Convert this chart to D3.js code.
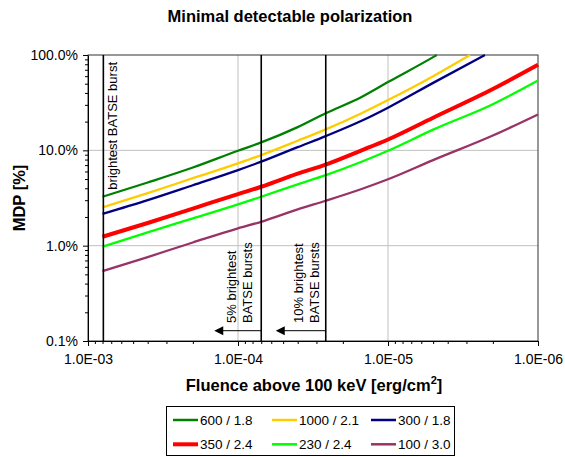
<!DOCTYPE html>
<html lang="en">
<head>
    <meta charset="UTF-8">
    <title>Minimal detectable polarization</title>
    <script src="https://d3js.org/d3.v7.min.js"></script>
    <style>
        body {
            margin: 0;
            padding: 0;
            background: #fff;
            font-family: Arial, "Liberation Sans", sans-serif;
        }
        svg text {
            font-family: Arial, "Liberation Sans", sans-serif;
        }
    </style>
</head>
<body>
    <svg width="565" height="457"></svg>

    <script>
        // fluence [erg/cm2] sample points
        const fluence = [8e-4, 4e-4, 2e-4, 1e-4, 7e-5, 4e-5, 2.6e-5, 1.5e-5, 1e-5, 5e-6, 2e-6, 1e-6];

        // MDP [%] per series (null = above the plot)
        const mdp600 = [3.26, 4.6, 6.6, 9.9, 12.1, 17.5, 24.5, 36.3, 52, 95, null, null];
        const mdp1000 = [2.52, 3.55, 5.1, 7.3, 8.9, 12.6, 16.6, 24.5, 33.7, 60, null, null];
        const mdp300 = [2.15, 3.0, 4.3, 6.2, 7.6, 10.8, 14.1, 20.4, 28, 51, null, null];
        const mdp350 = [1.24, 1.73, 2.45, 3.48, 4.15, 5.7, 7.1, 10, 13, 22, 44, 79];
        const mdp230 = [0.975, 1.38, 1.93, 2.71, 3.26, 4.4, 5.5, 7.6, 9.9, 16.5, 30.5, 54];
        const mdp100 = [0.54, 0.76, 1.08, 1.52, 1.78, 2.4, 2.96, 3.93, 4.97, 7.9, 14.3, 23.8];

        // fluence where a curve leaves the top of the plot (100 %)
        const exitFluence = [4.73e-6, 2.84e-6, 2.26e-6, null, null, null];

        const seriesNames = ["600 / 1.8", "1000 / 2.1", "300 / 1.8", "350 / 2.4", "230 / 2.4", "100 / 3.0"];
        const seriesColors = ["#008000", "#FFCC00", "#000080", "#FF0000", "#00FF00", "#993366"];
        const seriesValues = [mdp600, mdp1000, mdp300, mdp350, mdp230, mdp100];

        // BATSE markers
        const markerFluence = [7.9e-4, 7.0e-5, 2.6e-5];

        const xTickValues = [1e-3, 1e-4, 1e-5, 1e-6];
        const xTickLabels = ["1.0E-03", "1.0E-04", "1.0E-05", "1.0E-06"];
        const yTickValues = [100, 10, 1, 0.1];
        const yTickLabels = ["100.0%", "10.0%", "1.0%", "0.1%"];

        const pLeft = 88, pRight = 538, pTop = 55, pBottom = 341;

        const svg = d3.select("svg");

        const x = d3.scaleLog().domain([1e-3, 1e-6]).range([pLeft, pRight]);
        const y = d3.scaleLog().domain([0.1, 100]).range([pBottom, pTop]);

        // minor ticks for both log axes
        const xMinor = [];
        for (let e = -6; e <= -4; e++) {
            for (let m = 1; m <= 9; m++) xMinor.push(m * Math.pow(10, e));
        }
        xMinor.push(1e-3);
        const yMinor = [];
        for (let e = -1; e <= 1; e++) {
            for (let m = 1; m <= 9; m++) yMinor.push(m * Math.pow(10, e));
        }
        yMinor.push(100);

        const isMajor = (list, d) => list.some(t => Math.abs(t - d) / t < 1e-6);

        // gridlines
        const grid = svg.append("g");
        grid.selectAll("line.gx")
            .data(xTickValues.slice(1, 3))
            .enter().append("line")
            .attr("x1", d => x(d)).attr("x2", d => x(d))
            .attr("y1", pTop).attr("y2", pBottom)
            .attr("stroke", "#c0c0c0").attr("stroke-width", 1);
        grid.selectAll("line.gy")
            .data(yTickValues.slice(1, 3))
            .enter().append("line")
            .attr("x1", pLeft).attr("x2", pRight)
            .attr("y1", d => y(d)).attr("y2", d => y(d))
            .attr("stroke", "#c0c0c0").attr("stroke-width", 1);

        // frame
        svg.append("rect")
            .attr("x", pLeft).attr("y", pTop)
            .attr("width", pRight - pLeft).attr("height", pBottom - pTop)
            .attr("fill", "none").attr("stroke", "#333").attr("stroke-width", 1);

        // x axis
        const xAxis = d3.axisBottom(x)
            .tickValues(xMinor)
            .tickSizeOuter(0)
            .tickSizeInner(3)
            .tickFormat(d => {
                const i = xTickValues.findIndex(t => Math.abs(t - d) / t < 1e-6);
                return i >= 0 ? xTickLabels[i] : "";
            });
        const gx = svg.append("g")
            .attr("transform", `translate(0,${pBottom})`)
            .call(xAxis);
        gx.select(".domain").attr("stroke", "#000");
        gx.selectAll(".tick line").attr("stroke", "#000")
            .attr("y2", d => isMajor(xTickValues, d) ? 5 : 3);
        gx.selectAll(".tick text")
            .attr("y", 13)
            .attr("font-size", "14px").attr("fill", "#000");

        // y axis
        const yAxis = d3.axisLeft(y)
            .tickValues(yMinor)
            .tickSizeOuter(0)
            .tickSizeInner(3)
            .tickFormat(d => {
                const i = yTickValues.findIndex(t => Math.abs(t - d) / t < 1e-6);
                return i >= 0 ? yTickLabels[i] : "";
            });
        const gy = svg.append("g")
            .attr("transform", `translate(${pLeft},0)`)
            .call(yAxis);
        gy.select(".domain").attr("stroke", "#000");
        gy.selectAll(".tick line").attr("stroke", "#000")
            .attr("x2", d => isMajor(yTickValues, d) ? -5 : -3);
        gy.selectAll(".tick text")
            .attr("x", -10)
            .attr("font-size", "14px").attr("fill", "#000");

        // curves
        const line = d3.line()
            .x(d => x(d[0]))
            .y(d => y(d[1]))
            .curve(d3.curveMonotoneX);

        seriesValues.forEach((vals, i) => {
            const pts = fluence.map((f, j) => [f, vals[j]]).filter(p => p[1] != null);
            if (exitFluence[i] != null) pts.push([exitFluence[i], 100]);
            svg.append("path")
                .datum(pts)
                .attr("d", line)
                .attr("fill", "none")
                .attr("stroke", seriesColors[i])
                .attr("stroke-width", i === 3 ? 4 : 2.3)
                .attr("stroke-linejoin", "round");
        });

        // BATSE marker lines
        svg.selectAll("line.marker")
            .data(markerFluence)
            .enter().append("line")
            .attr("x1", d => x(d)).attr("x2", d => x(d))
            .attr("y1", pTop).attr("y2", pBottom)
            .attr("stroke", "#000").attr("stroke-width", 1.6);

        // marker annotations
        function vtext(px, py, str, anchor) {
            svg.append("text")
                .attr("transform", `translate(${px},${py}) rotate(-90)`)
                .attr("text-anchor", anchor)
                .attr("dominant-baseline", "central")
                .attr("font-size", "13px")
                .text(str);
        }
        vtext(x(markerFluence[0]) + 9, 62, "brightest BATSE burst", "end");
        vtext(x(markerFluence[1]) - 30, 323, "5% brightest", "start");
        vtext(x(markerFluence[1]) - 14, 323, "BATSE bursts", "start");
        vtext(x(markerFluence[2]) - 27, 323, "10% brightest", "start");
        vtext(x(markerFluence[2]) - 11, 323, "BATSE bursts", "start");

        // arrows pointing to brighter fluence
        [[markerFluence[1], 47], [markerFluence[2], 50]].forEach(([f, len]) => {
            const x0 = x(f), ay = 330.7;
            svg.append("line")
                .attr("x1", x0).attr("x2", x0 - len + 8)
                .attr("y1", ay).attr("y2", ay)
                .attr("stroke", "#000").attr("stroke-width", 1);
            svg.append("path")
                .attr("d", `M${x0 - len},${ay} L${x0 - len + 9},${ay - 4.5} L${x0 - len + 9},${ay + 4.5} Z`)
                .attr("fill", "#000");
        });

        // titles
        svg.append("text")
            .attr("x", 290).attr("y", 22)
            .attr("text-anchor", "middle")
            .attr("font-size", "16.5px").attr("font-weight", "bold")
            .text("Minimal detectable polarization");

        const xt = svg.append("text")
            .attr("x", 314).attr("y", 391)
            .attr("text-anchor", "middle")
            .attr("font-size", "16.5px").attr("font-weight", "bold");
        xt.append("tspan").text("Fluence above 100 keV [erg/cm");
        xt.append("tspan").attr("dy", -7).attr("font-size", "11px").text("2");
        xt.append("tspan").attr("dy", 7).text("]");

        svg.append("text")
            .attr("transform", `translate(25,${(pTop + pBottom) / 2}) rotate(-90)`)
            .attr("text-anchor", "middle")
            .attr("font-size", "16.5px").attr("font-weight", "bold")
            .text("MDP [%]");

        // legend
        const lg = svg.append("g");
        lg.append("rect")
            .attr("x", 166.5).attr("y", 406.5)
            .attr("width", 288).attr("height", 49)
            .attr("fill", "#fff").attr("stroke", "#000").attr("stroke-width", 1);
        seriesNames.forEach((name, i) => {
            const col = i % 3, row = Math.floor(i / 3);
            const lx = 173 + col * 99, ly = 420 + row * 24.3;
            lg.append("line")
                .attr("x1", lx).attr("x2", lx + 25)
                .attr("y1", ly).attr("y2", ly)
                .attr("stroke", seriesColors[i])
                .attr("stroke-width", i === 3 ? 4 : 2.5);
            lg.append("text")
                .attr("x", lx + 27).attr("y", ly)
                .attr("dominant-baseline", "central")
                .attr("font-size", "13.5px")
                .text(name);
        });
    </script>
</body>
</html>
